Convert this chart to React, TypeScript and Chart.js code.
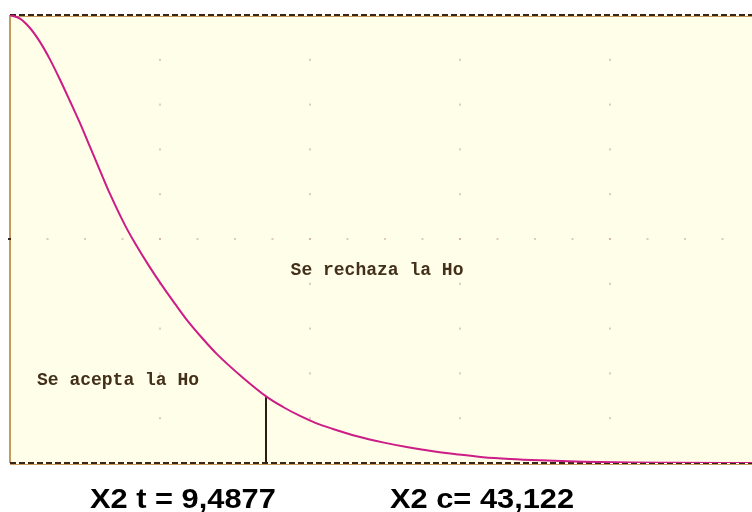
import { useEffect, useRef } from "react";
import { Chart, registerables } from "chart.js";

Chart.register(...registerables);

// Chi-square density curve (normalised to its peak), read along the x axis
const densityX = [
  0, 0.37, 0.74, 1.11, 1.48, 1.85, 2.22, 2.59, 2.97, 3.34, 3.71, 4.26, 4.63, 5.15, 5.67, 6.12, 6.56, 7.12,
  7.67, 8.6, 9.53, 10.12, 10.75, 11.34, 11.97, 12.9, 13.82, 14.75, 15.68, 16.6, 17.53, 18.53, 19.64, 21.24,
  22.98, 24.57, 27.5,
];
const densityY = [
  1.0, 0.992, 0.971, 0.94, 0.901, 0.856, 0.808, 0.759, 0.705, 0.652, 0.6, 0.531, 0.491, 0.44, 0.393, 0.355,
  0.319, 0.279, 0.243, 0.192, 0.147, 0.125, 0.105, 0.089, 0.076, 0.059, 0.046, 0.035, 0.026, 0.019, 0.013,
  0.009, 0.006, 0.003, 0.0013, 0.0007, 0,
];

// Critical value of the test and the curve height reached there
const criticalValue = 9.4877;
const criticalHeight = 0.147;

const acceptLabel = "Se acepta la Ho";
const rejectLabel = "Se rechaza la Ho";
const criticalLabel = "X2 t = 9,4877";
const statisticLabel = "X2 c= 43,122";

const xMax = 27.5;
const yMax = 1;
const xGridStep = 1.3898;
const yGridStep = 0.1;

const plotFill = "#fffee9";
const frameTan = "#c49a5e";
const frameDark = "#3a2412";
const textBrown = "#43301a";

const framePlugin = {
  id: "frame",
  beforeDatasetsDraw(chart: any) {
    const { ctx, chartArea: a, scales } = chart;
    const xs = scales.x;
    const ys = scales.y;
    ctx.save();
    ctx.fillStyle = plotFill;
    ctx.fillRect(a.left, a.top, a.right - a.left, a.bottom - a.top);

    // faint dotted grid
    ctx.fillStyle = "rgba(200,168,158,0.6)";
    const nx = Math.floor(xMax / xGridStep + 1e-6);
    const ny = Math.round(yMax / yGridStep);
    for (let k = 4; k <= nx; k += 4) {
      const px = xs.getPixelForValue(k * xGridStep);
      for (let j = 1; j < ny; j++) {
        const py = ys.getPixelForValue(j * yGridStep);
        ctx.fillRect(px - 1, py - 1, 2, 2);
      }
    }
    const midY = ys.getPixelForValue(yMax / 2);
    for (let k = 1; k <= nx; k++) {
      const px = xs.getPixelForValue(k * xGridStep);
      ctx.fillRect(px - 1, midY - 1, 2, 2);
    }

    // left edge
    ctx.strokeStyle = frameTan;
    ctx.lineWidth = 2;
    ctx.beginPath();
    ctx.moveTo(a.left, a.top);
    ctx.lineTo(a.left, a.bottom);
    ctx.stroke();
    ctx.fillStyle = frameDark;
    ctx.fillRect(a.left - 2, midY - 1, 3, 2);

    // dashed top and bottom edges
    for (const y of [a.top, a.bottom]) {
      ctx.setLineDash([]);
      ctx.strokeStyle = frameTan;
      ctx.lineWidth = 1;
      ctx.beginPath();
      ctx.moveTo(a.left, y + 1.5);
      ctx.lineTo(a.right, y + 1.5);
      ctx.stroke();
      ctx.setLineDash([6, 3]);
      ctx.strokeStyle = frameDark;
      ctx.lineWidth = 2;
      ctx.beginPath();
      ctx.moveTo(a.left, y);
      ctx.lineTo(a.right, y);
      ctx.stroke();
    }
    ctx.restore();
  },
  afterDatasetsDraw(chart: any) {
    const { ctx, chartArea: a, scales } = chart;
    const xs = scales.x;
    const ys = scales.y;
    ctx.save();
    ctx.fillStyle = textBrown;
    ctx.font = 'bold 18px "Liberation Mono", "DejaVu Sans Mono", monospace';
    ctx.textBaseline = "alphabetic";
    ctx.textAlign = "left";
    ctx.fillText(rejectLabel, xs.getPixelForValue(10.4), ys.getPixelForValue(0.42));
    ctx.fillText(acceptLabel, xs.getPixelForValue(1.0), ys.getPixelForValue(0.174));

    ctx.fillStyle = "#000";
    ctx.font = 'bold 28px "Liberation Sans", Arial, sans-serif';
    const base = a.bottom + 45;
    for (const [label, left] of [[criticalLabel, 90], [statisticLabel, 390]] as [string, number][]) {
      ctx.save();
      ctx.translate(left, base);
      ctx.scale(1.1, 1);
      ctx.fillText(label, 0, 0);
      ctx.restore();
    }
    ctx.restore();
  },
};

export default function App() {
  const ref = useRef<HTMLCanvasElement | null>(null);

  useEffect(() => {
    if (!ref.current) return;
    const curve = densityX.map((x, i) => ({ x, y: densityY[i] }));
    const chart = new Chart(ref.current, {
      type: "line",
      data: {
        datasets: [
          {
            label: "density",
            data: curve,
            borderColor: "#cc1c86",
            borderWidth: 2,
            pointRadius: 0,
            cubicInterpolationMode: "monotone",
            fill: false,
          },
          {
            label: "critical",
            data: [
              { x: criticalValue, y: 0 },
              { x: criticalValue, y: criticalHeight },
            ],
            borderColor: "#2a1d14",
            borderWidth: 2,
            pointRadius: 0,
            fill: false,
          },
        ],
      },
      options: {
        responsive: false,
        animation: false,
        layout: { padding: { left: 10, top: 15, right: 0, bottom: 49 } },
        plugins: { legend: { display: false }, tooltip: { enabled: false } },
        scales: {
          x: { type: "linear", min: 0, max: xMax, display: false },
          y: { type: "linear", min: 0, max: yMax, display: false },
        },
      },
      plugins: [framePlugin],
    });
    return () => chart.destroy();
  }, []);

  return (
    <div style={{ position: "fixed", left: 0, top: 0, width: 752, height: 512, background: "#fff" }}>
      <canvas ref={ref} width={752} height={512} style={{ display: "block" }} />
    </div>
  );
}
